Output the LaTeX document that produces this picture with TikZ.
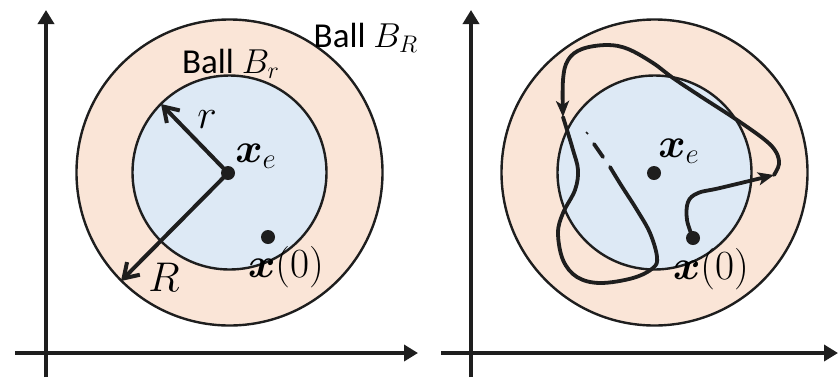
\documentclass[tikz,border=0pt]{standalone}
\usepackage{amsmath}
\usepackage{fontspec}
\newfontfamily\ballfont{Carlito}
\usetikzlibrary{arrows.meta}
\definecolor{Peach}{HTML}{FAE5D7}
\definecolor{Sky}{HTML}{DDE9F5}
\definecolor{Ink}{HTML}{1E1E1E}
\begin{document}
\begin{tikzpicture}[x=0.5pt,y=-0.5pt,
  axis/.style={Ink,line width=2.2pt,-{Triangle[length=7pt,width=8pt]}},
  ring/.style={draw=Ink,line width=1.2pt},
  dot/.style={circle,fill=Ink,inner sep=0pt,minimum size=7pt},
  lbl/.style={inner sep=0pt,font=\fontsize{22.5}{27}\selectfont},
  tag/.style={inner sep=0pt,font=\ballfont\fontsize{17.5}{21}\selectfont},
  radial/.style={Ink,line width=2pt,-{Straight Barb[length=7pt,width=9pt]}},
  traj/.style={Ink,line width=1.9pt,line cap=round},
  trajtip/.style={-{Stealth[length=8pt,width=6.5pt,inset=2pt]}}]
  \useasboundingbox (0,0) rectangle (839,381);

  % left panel
  \fill[Peach,ring] (229.5,172.5) circle[radius=153];
  \fill[Sky,ring] (229.5,172.5) circle[radius=97];
  \draw[axis] (46,377) -- (46,10);
  \draw[axis] (15,353) -- (418,353);
  \node[dot] (xeL) at (228,173) {};
  \node[dot] (x0L) at (268,237) {};
  \coordinate (rtip) at (161,104);
  \coordinate (Rtip) at (121,281);
  \draw[radial] (xeL.center) -- (rtip);
  \draw[radial] (xeL.center) -- (Rtip);
  \node[tag] (BrL) at (231,64) {Ball $B_r$};
  \node[tag] (BRL) at (366,38) {Ball $B_R$};
  \node[lbl] (rL) at (207,120) {$r$};
  \node[lbl] (RL) at (164,277) {$R$};
  \node[lbl] (xelblL) at (256,156) {$\boldsymbol{x}_e$};
  \node[lbl] (x0lblL) at (286,267) {$\boldsymbol{x}(0)$};

  % right panel
  \fill[Peach,ring] (654.5,172.5) circle[radius=153];
  \fill[Sky,ring] (654.5,172.5) circle[radius=97];
  \draw[axis] (471,377) -- (471,10);
  \draw[axis] (441,353) -- (838,353);
  \node[dot] (xeR) at (654,173) {};
  \node[dot] (x0R) at (693,238) {};
  \coordinate (tipA) at (774,175);
  \coordinate (tipB) at (563,117);
  \draw[traj,trajtip] (x0R.center) plot[smooth,tension=0.6] coordinates
    {(693,238) (687,220) (688,202) (698,193) (720,188) (774,175)};
  \draw[traj,trajtip] plot[smooth,tension=0.6] coordinates
    {(774,175) (779,164) (776,152) (765,140) (737,120) (700,96) (673,78)
     (653,63) (628,49) (607,45) (582,49) (568,60) (563,80) (563,117)};
  \draw[traj] plot[smooth,tension=0.6] coordinates
    {(563,117) (567,130) (573,150) (578,170) (575,190) (563,213) (558,233)
     (563,260) (577,277) (600,283) (633,278) (653,268) (657,257) (650,233)
     (637,210) (621,185) (610,167)};
  \draw[traj] (603,157) -- (594,144);
  \draw[Ink,line width=0.8pt] (588,134) -- (586,132);
  \node[lbl] (xelblR) at (679,151) {$\boldsymbol{x}_e$};
  \node[lbl] (x0lblR) at (711,269) {$\boldsymbol{x}(0)$};
\end{tikzpicture}
\end{document}
